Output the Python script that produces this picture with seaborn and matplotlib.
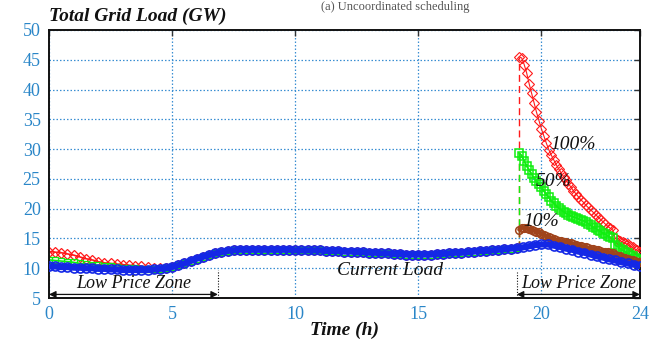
import numpy as np
import pandas as pd
import matplotlib
matplotlib.use("Agg")
import matplotlib.pyplot as plt
import seaborn as sns

# ---- data -------------------------------------------------------------
# current load, every 15 min from 0 h to 24 h (GW)
hours = np.arange(0, 24.01, 0.25)
current_load = [
    10.3, 10.3, 10.2, 10.2, 10.1, 10.1, 10.0, 10.0, 9.9, 9.9, 9.8, 9.8,
    9.7, 9.7, 9.7, 9.7, 9.7, 9.8, 9.9, 10.0, 10.2, 10.5, 10.8, 11.2,
    11.6, 11.9, 12.2, 12.5, 12.7, 12.9, 13.0, 13.1, 13.1, 13.1, 13.1, 13.1,
    13.1, 13.1, 13.1, 13.1, 13.0, 13.0, 13.0, 13.0, 13.0, 12.9, 12.9, 12.9,
    12.8, 12.8, 12.7, 12.7, 12.6, 12.6, 12.5, 12.5, 12.4, 12.4, 12.3, 12.3,
    12.3, 12.3, 12.3, 12.4, 12.4, 12.5, 12.6, 12.6, 12.7, 12.8, 12.9, 12.9,
    13.0, 13.1, 13.2, 13.3, 13.4, 13.5, 13.7, 13.9, 14.0, 14.0, 13.8, 13.6,
    13.3, 13.1, 12.8, 12.6, 12.3, 12.0, 11.8, 11.5, 11.3, 11.0, 10.8, 10.6,
    10.4,
]

# early-morning load with residual charging, 0 h to 4.75 h
red_morning = [12.8, 12.7, 12.6, 12.4, 12.2, 11.9, 11.6, 11.4, 11.1, 10.9,
               10.8, 10.7, 10.6, 10.5, 10.4, 10.3, 10.2, 10.1, 10.1, 10.1]
green_morning = [11.4, 11.3, 11.2, 11.1, 11.0, 10.8, 10.7, 10.6, 10.5, 10.4,
                 10.3, 10.2, 10.1, 10.0, 10.0, 9.9, 9.9, 9.9, 9.9, 10.0]

# evening charging period, every 6 min from 19.1 h to 24 h
ev_hours = np.round(np.arange(19.1, 24.05, 0.1), 1)
load_100 = [45.5, 45.3, 44.2, 42.8, 41.0, 39.4, 37.8, 36.2, 34.8, 33.4,
            32.2, 31.0, 29.9, 29.0, 28.2, 27.4, 26.7, 26.0, 25.4, 24.8,
            24.2, 23.6, 23.0, 22.5, 22.0, 21.5, 21.1, 20.6, 20.2, 19.8,
            19.4, 19.0, 18.6, 18.2, 17.8, 17.4, 17.0, 16.7, 16.4, 15.0,
            14.8, 14.6, 14.4, 14.2, 14.0, 13.7, 13.5, 13.2, 13.0, 12.8]
load_50 = [29.3, 28.9, 28.0, 27.2, 26.5, 25.8, 25.2, 24.6, 24.1, 23.6,
           23.0, 22.4, 21.9, 21.3, 20.9, 20.5, 20.1, 19.8, 19.5, 19.2,
           19.0, 18.8, 18.6, 18.5, 18.3, 18.1, 18.0, 17.8, 17.5, 17.2,
           16.9, 16.7, 16.4, 16.2, 15.9, 15.7, 15.4, 15.2, 15.0, 13.9,
           13.6, 13.3, 13.0, 12.8, 12.5, 12.3, 12.0, 11.8, 11.5, 11.3]
load_10 = [16.5, 16.8, 16.8, 16.7, 16.6, 16.4, 16.3, 16.1, 16.0, 15.8,
           15.6, 15.4, 15.2, 15.1, 14.9, 14.8, 14.6, 14.5, 14.4, 14.4,
           14.3, 14.2, 14.1, 13.9, 13.8, 13.7, 13.6, 13.5, 13.4, 13.3,
           13.2, 13.1, 13.0, 12.9, 12.8, 12.8, 12.7, 12.6, 12.5, 12.3,
           12.1, 12.0, 11.8, 11.7, 11.5, 11.4, 11.3, 11.2, 11.1, 11.0]
charge_base = 13.4   # current load where evening charging begins

zone_morning = (0.0, 6.86)
zone_evening = (19.0, 24.0)

x_ticks = [0, 5, 10, 15, 20, 24]
y_ticks = [5, 10, 15, 20, 25, 30, 35, 40, 45, 50]

# ---- frames ------------------------------------------------------------
n_m = len(red_morning)
n_day = 77  # samples up to 19.0 h
day = pd.DataFrame({"hour": hours, "load": current_load})
pre_red = pd.DataFrame({"hour": hours[:n_day],
                        "load": red_morning + current_load[n_m:n_day]})
pre_green = pd.DataFrame({"hour": hours[:n_day],
                          "load": green_morning + current_load[n_m:n_day]})
ev100 = pd.DataFrame({"hour": ev_hours, "load": load_100})
ev50 = pd.DataFrame({"hour": ev_hours, "load": load_50})
ev10 = pd.DataFrame({"hour": ev_hours, "load": load_10})

RED = "#ff1a1a"
GREEN = "#10ee10"
BROWN = "#a0441c"
BLUE = "#1428e6"
TICK_BLUE = "#2a86c8"
GRID_BLUE = "#3a8fd2"

sns.set_theme(style="white")
plt.rcParams["font.family"] = ["Liberation Serif", "DejaVu Serif"]

fig = plt.figure(figsize=(6.59, 3.44), dpi=100)
ax = fig.add_axes([0.0744, 0.1337, 0.8966, 0.7791])

# morning and day profiles under the current load
sns.lineplot(data=pre_red, x="hour", y="load", ax=ax, color=RED, lw=1.2,
             marker="D", markersize=5, markerfacecolor="none",
             markeredgecolor=RED, markeredgewidth=0.9)
sns.lineplot(data=pre_green, x="hour", y="load", ax=ax, color=GREEN, lw=1.2,
             marker="s", markersize=5, markerfacecolor="none",
             markeredgecolor=GREEN, markeredgewidth=0.9)

# jumps at the start of evening charging
for vals, col in [(load_100, RED), (load_50, GREEN), (load_10, BROWN)]:
    ax.vlines(ev_hours[0], charge_base, vals[0], colors=col,
              linestyles=(0, (5, 3)), lw=1.0, zorder=2)

sns.lineplot(data=ev100, x="hour", y="load", ax=ax, color=RED, lw=0.8,
             marker="D", markersize=5, markerfacecolor="none",
             markeredgecolor=RED, markeredgewidth=0.8, zorder=3)
sns.lineplot(data=ev50, x="hour", y="load", ax=ax, color=GREEN, lw=1.5,
             marker="s", markersize=5.5, markerfacecolor="none",
             markeredgecolor=GREEN, markeredgewidth=1.1, zorder=3)
sns.lineplot(data=ev10, x="hour", y="load", ax=ax, color=BROWN, lw=3.0,
             marker="o", markersize=5.5, markerfacecolor="none",
             markeredgecolor=BROWN, markeredgewidth=1.1, zorder=4)

# current load
sns.lineplot(data=day, x="hour", y="load", ax=ax, color=BLUE, lw=4.5,
             marker="o", markersize=6.5, markerfacecolor="none",
             markeredgecolor=BLUE, markeredgewidth=1.2, zorder=5)

# ---- axes styling ------------------------------------------------------
ax.set_xlim(0, 24)
ax.set_ylim(5, 50)
ax.set_xticks(x_ticks)
ax.set_yticks(y_ticks)
ax.tick_params(axis="both", which="both", direction="in", length=4,
               width=1.0, color="#333333", top=True, right=True,
               labelsize=13, labelcolor=TICK_BLUE, pad=6)
ax.grid(True, color=GRID_BLUE, linestyle=(0, (1.2, 1.6)), lw=0.9)
for s in ax.spines.values():
    s.set_color("#111111")
    s.set_linewidth(1.4)
ax.set_xlabel("")
ax.set_ylabel("")

ax.text(0.0, 1.02, "Total Grid Load (GW)", transform=ax.transAxes,
        fontsize=14, fontweight="bold", fontstyle="italic", ha="left",
        va="bottom", color="#111111")
ax.text(0.5, -0.12, "Time (h)", transform=ax.transAxes, fontsize=14,
        fontweight="bold", fontstyle="italic", ha="center", va="center",
        color="#111111")
fig.text(0.60, 0.998, "(a) Uncoordinated scheduling", fontsize=9,
         ha="center", va="top", color="#555555")

# low price zones
for (z0, z1) in [zone_morning, zone_evening]:
    ax.annotate("", xy=(z0, 5.6), xytext=(z1, 5.6),
                arrowprops=dict(arrowstyle="<|-|>", color="#111111",
                                lw=0.9, shrinkA=0, shrinkB=0,
                                mutation_scale=10), zorder=6)
    ax.text((z0 + z1) / 2, 7.4, "Low Price Zone", fontsize=13,
            fontstyle="italic", ha="center", va="center", color="#111111",
            zorder=6)
ax.vlines(zone_morning[1], 5, 9.7, colors="#111111",
          linestyles=(0, (1, 1.5)), lw=0.8, zorder=6)
ax.vlines(zone_evening[0], 5, 9.4, colors="#111111",
          linestyles=(0, (1, 1.5)), lw=0.8, zorder=6)

ax.text(13.85, 9.7, "Current Load", fontsize=14, fontstyle="italic",
        ha="center", va="center", color="#111111", zorder=6)
ax.text(21.3, 30.7, "100%", fontsize=14, fontstyle="italic",
        ha="center", va="center", color="#111111", zorder=6)
ax.text(20.5, 24.5, "50%", fontsize=14, fontstyle="italic",
        ha="center", va="center", color="#111111", zorder=6)
ax.text(20.0, 17.9, "10%", fontsize=14, fontstyle="italic",
        ha="center", va="center", color="#111111", zorder=6)

fig.savefig("out.png", dpi=100)
